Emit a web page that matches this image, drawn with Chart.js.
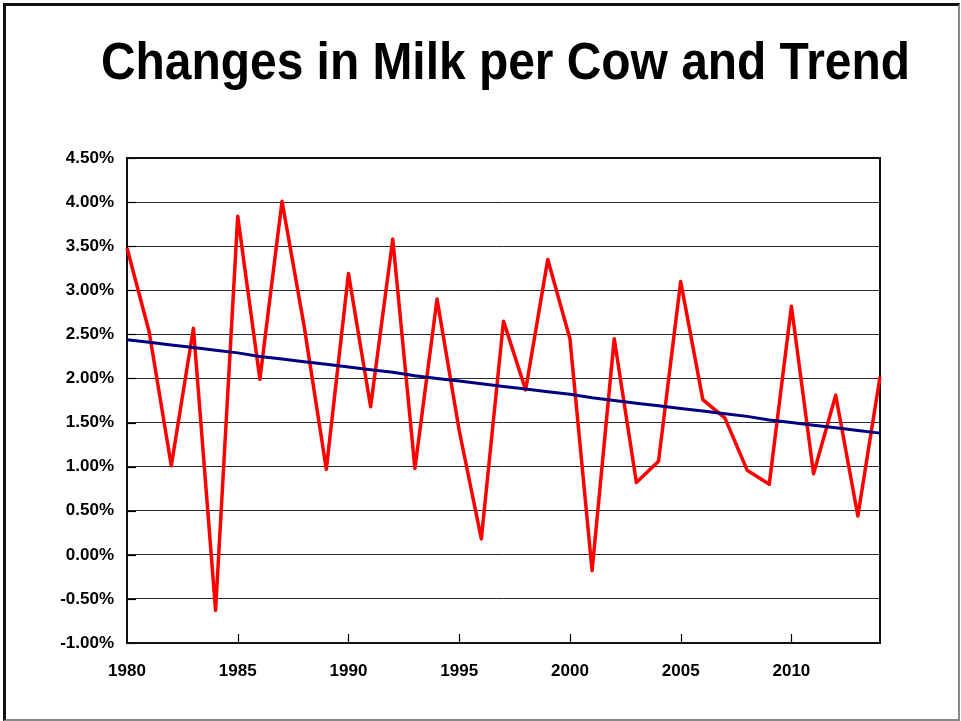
<!DOCTYPE html>
<html>
<head>
<meta charset="utf-8">
<title>Changes in Milk per Cow and Trend</title>
<script src="https://cdn.jsdelivr.net/npm/chart.js@4/dist/chart.umd.min.js"></script>
<style>
  html, body { margin: 0; padding: 0; background: #fff; }
  #wrap { position: relative; width: 961px; height: 721px; overflow: hidden; }
  #frame {
    position: absolute; left: 3px; top: 3px; width: 957px; height: 718px;
    box-sizing: border-box;
    border-top: 3px solid #111; border-left: 3px solid #111;
    border-right: 2px solid #888; border-bottom: 2px solid #888;
  }
  canvas { position: absolute; left: 0; top: 0; }
</style>
</head>
<body>
<div id="wrap">
  <div id="frame"></div>
  <canvas id="chart" width="961" height="721"></canvas>
</div>
<script>
// Years on the horizontal axis
const years = [
  1980, 1981, 1982, 1983, 1984, 1985, 1986, 1987, 1988, 1989,
  1990, 1991, 1992, 1993, 1994, 1995, 1996, 1997, 1998, 1999,
  2000, 2001, 2002, 2003, 2004, 2005, 2006, 2007, 2008, 2009,
  2010, 2011, 2012, 2013, 2014
];

// Annual change in milk per cow, percent
const milkChange = [
  3.48, 2.53, 1.01, 2.57, -0.63, 3.84, 1.99, 4.01, 2.59, 0.97,
  3.19, 1.68, 3.58, 0.98, 2.90, 1.41, 0.18, 2.65, 1.87, 3.35,
  2.45, -0.18, 2.45, 0.82, 1.06, 3.10, 1.76, 1.55, 0.96, 0.80,
  2.82, 0.92, 1.81, 0.44, 2.02
];

// Trend of the annual change, percent
const trendChange = [
  2.44, 2.41, 2.38, 2.35, 2.32, 2.29, 2.25, 2.22, 2.19, 2.16,
  2.13, 2.10, 2.07, 2.03, 2.00, 1.97, 1.94, 1.91, 1.88, 1.85,
  1.82, 1.78, 1.75, 1.72, 1.69, 1.66, 1.63, 1.60, 1.57, 1.53,
  1.50, 1.47, 1.44, 1.41, 1.38
];

// Value axis range and step
const yMin = -1.0;
const yMax = 4.5;
const yStep = 0.5;

const TITLE = 'Changes in Milk per Cow and Trend';
const FONT = "'Liberation Sans', Arial, Helvetica, sans-serif";

// Heading drawn above the plot, slightly condensed
const heading = {
  id: 'heading',
  afterDraw(chart) {
    const { ctx } = chart;
    ctx.save();
    ctx.fillStyle = '#000';
    ctx.font = 'bold 51px ' + FONT;
    ctx.textAlign = 'center';
    ctx.textBaseline = 'alphabetic';
    ctx.fillText(TITLE, 505.5, 79, 809);
    ctx.restore();
  }
};

// Plot frame plus short inward tick marks on both axes
const plotFrame = {
  id: 'plotFrame',
  beforeDatasetsDraw(chart) {
    const { ctx, chartArea: a, scales: { x, y } } = chart;
    ctx.save();
    ctx.strokeStyle = '#000';
    ctx.lineWidth = 1.2;
    // x-axis ticks every five years, pointing up into the plot
    years.forEach((yr, i) => {
      if (yr % 5 !== 0 || i === 0) return;
      const px = Math.round(x.getPixelForValue(i)) + 0.5;
      ctx.beginPath();
      ctx.moveTo(px, a.bottom);
      ctx.lineTo(px, a.bottom - 9);
      ctx.stroke();
    });
    // y-axis ticks pointing right into the plot
    y.ticks.forEach(t => {
      const py = Math.round(y.getPixelForValue(t.value)) + 0.5;
      ctx.beginPath();
      ctx.moveTo(a.left, py);
      ctx.lineTo(a.left + 9, py);
      ctx.stroke();
    });
    ctx.lineWidth = 2;
    ctx.strokeStyle = '#111';
    ctx.strokeRect(a.left, a.top, a.right - a.left, a.bottom - a.top);
    ctx.restore();
  }
};

new Chart(document.getElementById('chart'), {
  type: 'line',
  data: {
    labels: years.map(String),
    datasets: [
      {
        label: 'Trend',
        data: trendChange,
        borderColor: '#000080',
        borderWidth: 3,
        pointRadius: 0,
        tension: 0,
        borderJoinStyle: 'round',
        fill: false
      },
      {
        label: 'Change in milk per cow',
        data: milkChange,
        borderColor: '#ff0000',
        borderWidth: 3.5,
        pointRadius: 0,
        tension: 0,
        borderJoinStyle: 'round',
        fill: false
      }
    ]
  },
  options: {
    responsive: false,
    animation: false,
    events: [],
    layout: { padding: { left: 47, right: 81, top: 158, bottom: 38 } },
    plugins: {
      legend: { display: false },
      tooltip: { enabled: false },
      title: { display: false }
    },
    scales: {
      x: {
        type: 'category',
        offset: false,
        grid: { display: false },
        border: { display: false },
        afterFit(scale) { scale.height = 40; },
        ticks: {
          autoSkip: false,
          maxRotation: 0,
          minRotation: 0,
          padding: 10,
          color: '#000',
          font: { family: FONT, size: 17, weight: 'bold' },
          callback: (v, i) => (years[i] % 5 === 0 ? String(years[i]) : '')
        }
      },
      y: {
        min: yMin,
        max: yMax,
        afterFit(scale) { scale.width = 80; },
        border: { display: false },
        grid: { color: '#2a2a2a', lineWidth: 1, drawTicks: false },
        ticks: {
          stepSize: yStep,
          padding: 13,
          color: '#000',
          font: { family: FONT, size: 17, weight: 'bold' },
          callback: v => v.toFixed(2) + '%'
        }
      }
    }
  },
  plugins: [plotFrame, heading]
});
</script>
</body>
</html>
